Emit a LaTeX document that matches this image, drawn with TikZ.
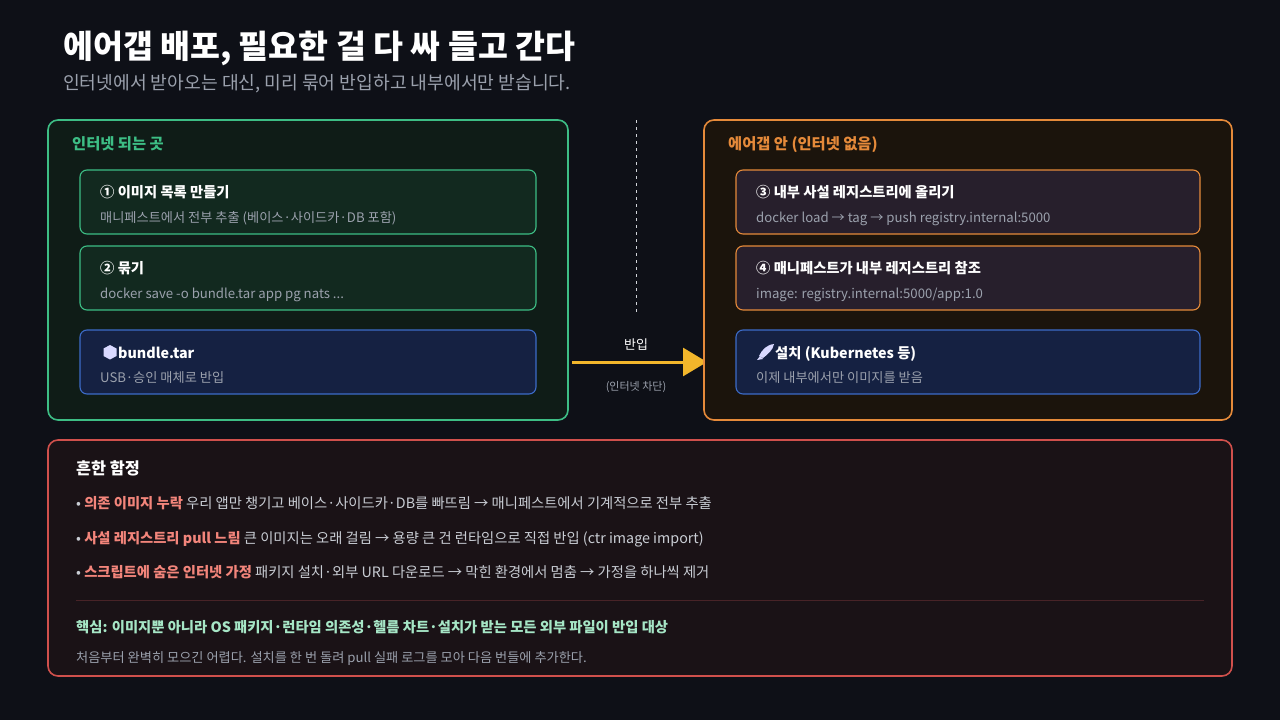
\documentclass[tikz,border=0pt]{standalone}
\usepackage{fontspec}
\setmainfont{Noto Sans CJK KR}
\usetikzlibrary{arrows.meta}
\definecolor{bg}{HTML}{0E1017}
\definecolor{grn}{HTML}{3DBE85}
\definecolor{grnfill}{HTML}{0F1C17}
\definecolor{grnbox}{HTML}{12291F}
\definecolor{org}{HTML}{E58A3A}
\definecolor{orgfill}{HTML}{1B140C}
\definecolor{purbox}{HTML}{271F2C}
\definecolor{blu}{HTML}{3C6BC8}
\definecolor{blubox}{HTML}{152142}
\definecolor{redb}{HTML}{D0504C}
\definecolor{redfill}{HTML}{1A1216}
\definecolor{salmon}{HTML}{F3857B}
\definecolor{mint}{HTML}{A6E6C6}
\definecolor{gry}{HTML}{9BA1AD}
\definecolor{txt}{HTML}{C9CDD4}
\definecolor{yel}{HTML}{F2B62B}
\tikzset{
  panel/.style={rounded corners=10pt, line width=1.6pt},
  box/.style={rounded corners=7pt, line width=1.1pt},
  ttl/.style={anchor=base west, text=white, font=\fontsize{14.3}{16}\selectfont\bfseries, inner sep=0},
  sub/.style={anchor=base west, text=gry, font=\fontsize{13.2}{15}\selectfont, inner sep=0},
  body/.style={anchor=base west, text=txt, font=\fontsize{14.3}{16}\selectfont, inner sep=0},
}
\begin{document}
\begin{tikzpicture}[x=1pt,y=-1pt]
\fill[bg] (0,0) rectangle (1280,720);
\useasboundingbox (0,0) rectangle (1280,720);
\node[anchor=base west,inner sep=0,text=white,font=\fontsize{32.5}{34}\selectfont\bfseries] (title) at (63,58) {에어갭 배포, 필요한 걸 다 싸 들고 간다};
\node[anchor=base west,inner sep=0,text=gry,font=\fontsize{18.2}{20}\selectfont] (subtitle) at (63,89) {인터넷에서 받아오는 대신, 미리 묶어 반입하고 내부에서만 받습니다.};
% left panel
\draw[panel,grn,fill=grnfill] (48,120) rectangle (568,420);
\node[anchor=base west,inner sep=0,text=grn,font=\fontsize{15.3}{17}\selectfont\bfseries] (lp) at (72,149) {인터넷 되는 곳};
\draw[box,grn,fill=grnbox] (80,170) rectangle (536,234);
\node[ttl] (b1t) at (100,197) {① 이미지 목록 만들기};
\node[sub] (b1s) at (100,222) {매니페스트에서 전부 추출 (베이스·사이드카·DB 포함)};
\draw[box,grn,fill=grnbox] (80,246) rectangle (536,310);
\node[ttl] (b2t) at (100,273) {② 묶기};
\node[sub] (b2s) at (100,298) {docker save -o bundle.tar app pg nats ...};
\draw[box,blu,fill=blubox] (80,330) rectangle (536,394);
\fill[white!85!blue] (110,345) -- (116.5,348.5) -- (116.5,356) -- (110,359.5) -- (103.5,356) -- (103.5,348.5) -- cycle;
\node[ttl] (b3t) at (118,358) {bundle.tar};
\node[sub] (b3s) at (100,382) {USB·승인 매체로 반입};
% divider and arrow
\draw[gry!45,dash pattern=on 3pt off 4pt,line width=0.8pt] (636,120) -- (636,315);
\coordinate (as) at (572,362);
\coordinate (ae) at (707,362);
\draw[yel,line width=3pt,-{Triangle[length=24pt,width=28pt]}] (as) -- (ae);
\node[text=white,font=\fontsize{13}{15}\selectfont,inner sep=0] (al) at (636,345) {반입};
\node[text=gry,font=\fontsize{11}{13}\selectfont,inner sep=0] (al2) at (636,387) {(인터넷 차단)};
% right panel
\draw[panel,org,fill=orgfill] (704,120) rectangle (1232,420);
\node[anchor=base west,inner sep=0,text=org,font=\fontsize{15.3}{17}\selectfont\bfseries] (rp) at (728,149) {에어갭 안 (인터넷 없음)};
\draw[box,org,fill=purbox] (736,170) rectangle (1200,234);
\node[ttl] (b4t) at (756,197) {③ 내부 사설 레지스트리에 올리기};
\node[sub] (b4s) at (756,222) {docker load → tag → push registry.internal:5000};
\draw[box,org,fill=purbox] (736,246) rectangle (1200,310);
\node[ttl] (b5t) at (756,273) {④ 매니페스트가 내부 레지스트리 참조};
\node[sub] (b5s) at (756,298) {image: registry.internal:5000/app:1.0};
\draw[box,blu,fill=blubox] (736,330) rectangle (1200,394);
\fill[white!85!blue] (774,344) .. controls (766,345) and (762,350) .. (759,356) -- (763,358) .. controls (768,354) and (773,350) .. (774,344) -- cycle;
\fill[white!85!blue] (757,360) -- (760,356) -- (763,359) -- cycle;
\node[ttl] (b6t) at (775,358) {설치 (Kubernetes 등)};
\node[sub] (b6s) at (756,382) {이제 내부에서만 이미지를 받음};
% bottom panel
\draw[panel,redb,fill=redfill] (48,440) rectangle (1232,676);
\node[anchor=base west,inner sep=0,text=white,font=\fontsize{16.3}{18}\selectfont\bfseries] (bt) at (76,474) {흔한 함정};
\node[body] (l1) at (76,508) {• \textcolor{salmon}{\bfseries 의존 이미지 누락} 우리 앱만 챙기고 베이스·사이드카·DB를 빠뜨림 → 매니페스트에서 기계적으로 전부 추출};
\node[body] (l2) at (76,543) {• \textcolor{salmon}{\bfseries 사설 레지스트리 pull 느림} 큰 이미지는 오래 걸림 → 용량 큰 건 런타임으로 직접 반입 (ctr image import)};
\node[body] (l3) at (76,577) {• \textcolor{salmon}{\bfseries 스크립트에 숨은 인터넷 가정} 패키지 설치·외부 URL 다운로드 → 막힌 환경에서 멈춤 → 가정을 하나씩 제거};
\draw[redb!30!bg,line width=0.8pt] (76,600) -- (1204,600);
\node[anchor=base west,inner sep=0,text=mint,font=\fontsize{14.3}{16}\selectfont\bfseries] (core) at (76,632) {핵심: 이미지뿐 아니라 OS 패키지·런타임 의존성·헬름 차트·설치가 받는 모든 외부 파일이 반입 대상};
\node[sub] (last) at (76,662) {처음부터 완벽히 모으긴 어렵다. 설치를 한 번 돌려 pull 실패 로그를 모아 다음 번들에 추가한다.};
\end{tikzpicture}
\end{document}
